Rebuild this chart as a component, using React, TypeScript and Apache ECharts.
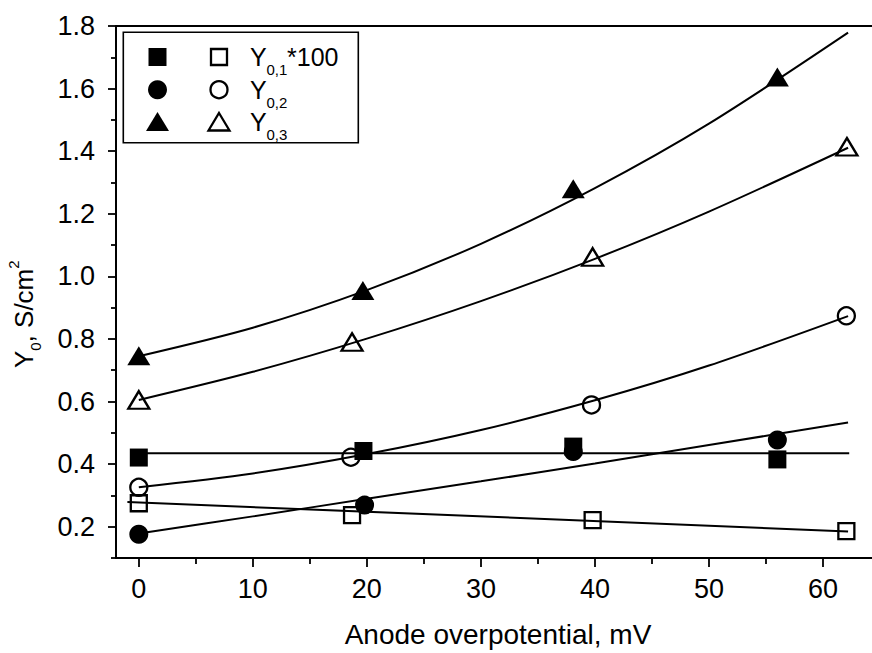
import React, { useEffect, useRef } from "react";
import * as echarts from "echarts";

// Tick labels
const xTickLabels = [0, 10, 20, 30, 40, 50, 60];
const xMinorTicks = [5, 15, 25, 35, 45, 55];
const yTickLabels = [0.2, 0.4, 0.6, 0.8, 1.0, 1.2, 1.4, 1.6, 1.8];
const yMinorTicks = [0.1, 0.3, 0.5, 0.7, 0.9, 1.1, 1.3, 1.5, 1.7];

// Measured points
const sqFilledX = [0, 19.7, 38.1, 56.0];
const sqFilledY = [0.421, 0.442, 0.456, 0.415];
const sqOpenX = [0, 18.7, 39.8, 62.05];
const sqOpenY = [0.275, 0.237, 0.221, 0.186];
const circFilledX = [0, 19.8, 38.1, 56.0];
const circFilledY = [0.176, 0.269, 0.44, 0.477];
const circOpenX = [0, 18.6, 39.7, 62.05];
const circOpenY = [0.326, 0.422, 0.589, 0.874];
const triFilledX = [0, 19.65, 38.1, 56.0];
const triFilledY = [0.746, 0.955, 1.28, 1.637];
const triOpenX = [0, 18.7, 39.8, 62.1];
const triOpenY = [0.605, 0.79, 1.062, 1.414];

// Fit curves
const fitX = [0, 10, 20, 30, 40, 50, 62.2];
const fitTriFilled = [0.745, 0.836, 0.956, 1.104, 1.282, 1.488, 1.779];
const fitTriOpen = [0.605, 0.695, 0.801, 0.921, 1.056, 1.207, 1.411];
const fitCircOpen = [0.326, 0.37, 0.432, 0.509, 0.604, 0.715, 0.873];
const fitCircFilled = [0.178, 0.233, 0.289, 0.345, 0.402, 0.461, 0.533];
const fitSqFilledX = [-0.7, 62.3];
const fitSqFilledY = [0.435, 0.435];
const fitSqOpenX = [-1, 62.2];
const fitSqOpenY = [0.279, 0.185];

const FONT = "'Liberation Sans', Arial, Helvetica, sans-serif";

const zip = (xs: number[], ys: number[]) => xs.map((x, i) => [x, ys[i]]);

export default function App() {
  const ref = useRef<HTMLDivElement>(null);
  useEffect(() => {
    if (!ref.current) return;
    const chart = echarts.init(ref.current, undefined, { renderer: "svg" });
    const black = "#000";
    const lineSeries = (xs: number[], ys: number[]) => ({
      type: "line",
      data: zip(xs, ys),
      symbol: "none",
      showSymbol: false,
      smooth: 0.3,
      lineStyle: { color: black, width: 2 },
      z: 2,
      silent: true,
    });
    const filled = (xs: number[], ys: number[], symbol: string, size: any) => ({
      type: "scatter",
      data: zip(xs, ys),
      symbol,
      symbolSize: size,
      itemStyle: { color: black, opacity: 1 },
      z: 4,
      silent: true,
    });
    const open = (xs: number[], ys: number[], symbol: string, size: any) => ({
      type: "scatter",
      data: zip(xs, ys),
      symbol,
      symbolSize: size,
      itemStyle: { color: "rgba(0,0,0,0)", borderColor: black, borderWidth: 2.3, opacity: 1 },
      z: 4,
      silent: true,
    });

    const textStyle = (text: string, size: number) => ({
      text,
      fontSize: size,
      fontFamily: FONT,
      fill: black,
      align: "left",
      verticalAlign: "middle",
    });

    const legendRows = [57, 89.7, 122];
    const legendX1 = 157.5;
    const legendX2 = 219;
    const legendTextX = 250;
    const legendGraphics: any[] = [
      {
        type: "rect",
        shape: { x: 123.3, y: 32.3, width: 235, height: 110.4 },
        style: { fill: "#fff", stroke: black, lineWidth: 1.6 },
        z: 10,
      },
      { type: "rect", shape: { x: legendX1 - 9, y: legendRows[0] - 9, width: 18, height: 18 }, style: { fill: black }, z: 11 },
      { type: "rect", shape: { x: legendX2 - 8, y: legendRows[0] - 8, width: 16, height: 16 }, style: { fill: "none", stroke: black, lineWidth: 2.3 }, z: 11 },
      { type: "circle", shape: { cx: legendX1, cy: legendRows[1], r: 9.5 }, style: { fill: black }, z: 11 },
      { type: "circle", shape: { cx: legendX2, cy: legendRows[1], r: 8.5 }, style: { fill: "none", stroke: black, lineWidth: 2.3 }, z: 11 },
      {
        type: "polygon",
        shape: { points: [[legendX1, legendRows[2] - 10], [legendX1 + 11.5, legendRows[2] + 9], [legendX1 - 11.5, legendRows[2] + 9]] },
        style: { fill: black },
        z: 11,
      },
      {
        type: "polygon",
        shape: { points: [[legendX2, legendRows[2] - 9], [legendX2 + 10.5, legendRows[2] + 8.5], [legendX2 - 10.5, legendRows[2] + 8.5]] },
        style: { fill: "none", stroke: black, lineWidth: 2.3 },
        z: 11,
      },
    ];
    const legendSubs = ["0,1", "0,2", "0,3"];
    legendRows.forEach((cy, i) => {
      legendGraphics.push({ type: "text", x: legendTextX, y: cy, style: textStyle("Y", 25), z: 11 });
      legendGraphics.push({ type: "text", x: legendTextX + 16.5, y: cy + 12.5, style: textStyle(legendSubs[i], 15), z: 11 });
    });
    legendGraphics.push({ type: "text", x: legendTextX + 37, y: legendRows[0], style: textStyle("*100", 25), z: 11 });

    const yTitle = {
      type: "group",
      x: 24,
      y: 368,
      rotation: Math.PI / 2,
      children: [
        { type: "text", x: 0, y: 0, style: textStyle("Y", 26) },
        { type: "text", x: 17.3, y: 11.6, style: textStyle("0", 15) },
        { type: "text", x: 25.6, y: 0, style: textStyle(", S/cm", 26) },
        { type: "text", x: 99.3, y: -10.3, style: textStyle("2", 15) },
      ],
    };

    const baseX = { type: "value", min: -2, max: 65, gridIndex: 0, splitLine: { show: false } };
    const baseY = { type: "value", min: 0.1, max: 1.8, gridIndex: 0, splitLine: { show: false } };

    chart.setOption({
      animation: false,
      backgroundColor: "#fff",
      textStyle: { fontFamily: FONT },
      grid: { left: 116, top: 26, width: 764, height: 532, outerBoundsMode: "none", containLabel: false },
      xAxis: [
        {
          ...baseX,
          position: "bottom",
          axisLine: { show: true, onZero: false, lineStyle: { color: black, width: 2 } },
          axisTick: { show: true, inside: false, length: 9, customValues: xTickLabels, lineStyle: { color: black, width: 1.8 } },
          axisLabel: { show: true, customValues: xTickLabels, fontSize: 27, color: black, fontFamily: FONT, margin: 17 },
          name: "Anode overpotential, mV",
          nameLocation: "middle",
          nameGap: 62,
          nameTextStyle: { fontSize: 28, color: black, fontFamily: FONT },
        },
        {
          ...baseX,
          position: "bottom",
          axisLine: { show: false, onZero: false },
          axisTick: { show: true, inside: false, length: 6, customValues: xMinorTicks, lineStyle: { color: black, width: 1.8 } },
          axisLabel: { show: false },
        },
        {
          ...baseX,
          position: "top",
          axisLine: { show: true, onZero: false, lineStyle: { color: black, width: 2 } },
          axisTick: { show: false },
          axisLabel: { show: false },
        },
      ],
      yAxis: [
        {
          ...baseY,
          position: "left",
          axisLine: { show: true, onZero: false, lineStyle: { color: black, width: 2 } },
          axisTick: { show: true, inside: false, length: 8, customValues: yTickLabels, lineStyle: { color: black, width: 1.8 } },
          axisLabel: {
            show: true,
            customValues: yTickLabels,
            fontSize: 27,
            color: black,
            fontFamily: FONT,
            margin: 21,
            formatter: (v: number) => v.toFixed(1),
          },
        },
        {
          ...baseY,
          position: "left",
          axisLine: { show: false, onZero: false },
          axisTick: { show: true, inside: false, length: 5, customValues: yMinorTicks, lineStyle: { color: black, width: 1.8 } },
          axisLabel: { show: false },
        },
      ],
      series: [
        lineSeries(fitX, fitTriFilled),
        lineSeries(fitX, fitTriOpen),
        lineSeries(fitX, fitCircOpen),
        lineSeries(fitX, fitCircFilled),
        lineSeries(fitSqFilledX, fitSqFilledY),
        lineSeries(fitSqOpenX, fitSqOpenY),
        filled(sqFilledX, sqFilledY, "rect", 18),
        open(sqOpenX, sqOpenY, "rect", 16),
        filled(circFilledX, circFilledY, "circle", 19),
        open(circOpenX, circOpenY, "circle", 17),
        filled(triFilledX, triFilledY, "triangle", [23, 19]),
        open(triOpenX, triOpenY, "triangle", [21, 17.5]),
      ],
      graphic: [...legendGraphics, yTitle],
    });
    return () => chart.dispose();
  }, []);
  return <div ref={ref} style={{ position: "absolute", left: 0, top: 0, width: 872, height: 653 }} />;
}
